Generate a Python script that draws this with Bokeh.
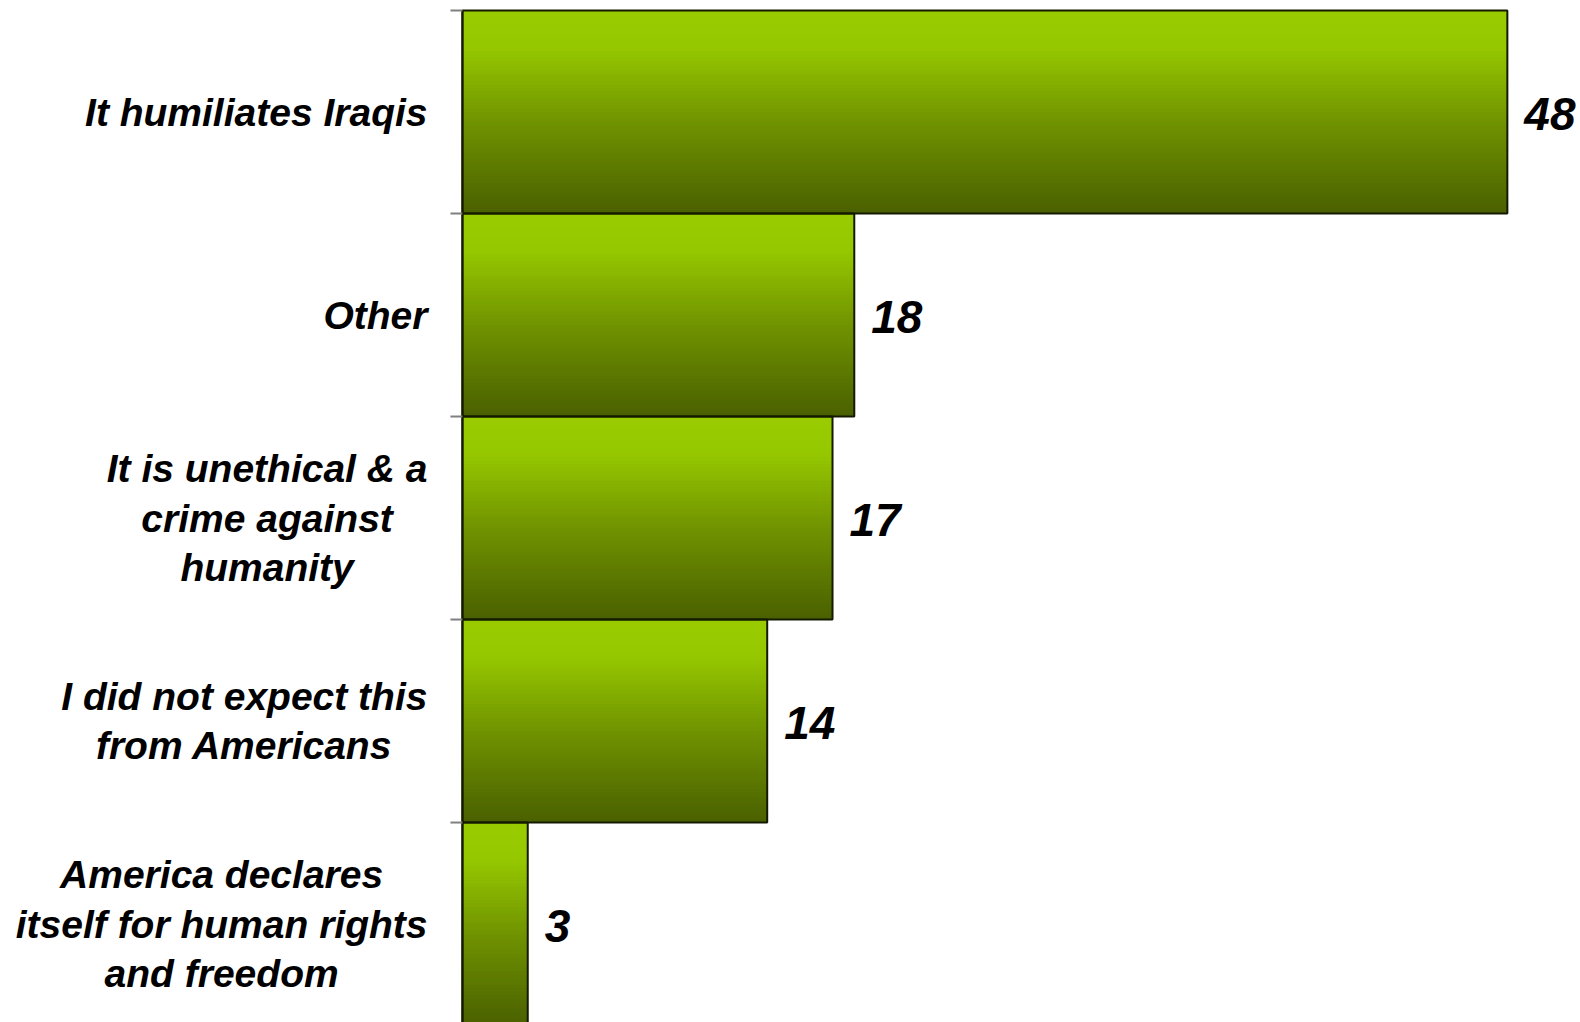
import glob
import numpy as np
from bokeh.plotting import figure
from bokeh.models import Range1d, ColumnDataSource
from bokeh.core.properties import value
from bokeh.embed import file_html
from bokeh.resources import INLINE

# ---- data ----
categories = [
    "It humiliates Iraqis",
    "Other",
    "It is unethical & a\ncrime against\nhumanity",
    "I did not expect this\nfrom Americans",
    "America declares\nitself for human rights\nand freedom",
]
values = [48, 18, 17, 14, 3]
value_labels = ["48", "18", "17", "14", "3"]

# ---- style ----
FONT = "Liberation Sans"
CAT_SIZE = 39
VAL_SIZE = 46
W, H = 1580, 1022


def text_width(s, size):
    try:
        from PIL import ImageFont
        paths = glob.glob("/usr/share/fonts/**/LiberationSans-BoldItalic.ttf", recursive=True)
        f = ImageFont.truetype(paths[0], size)
        return f.getlength(s)
    except Exception:
        return 0.58 * size * len(s)


n = len(categories)
p = figure(width=W, height=H, output_backend="svg", toolbar_location=None,
           x_axis_location=None, y_axis_location=None,
           x_range=Range1d(-21.22, 51.36), y_range=Range1d(4.985, -0.04926))
p.min_border = 0
p.outline_line_color = None
p.grid.visible = False
p.background_fill_color = "white"
p.border_fill_color = "white"

# gradient by stacked strips
stops = [(0.0, (0x99, 0xCC, 0x00)), (0.18, (0x96, 0xC8, 0x00)),
         (0.55, (0x70, 0x93, 0x00)), (1.0, (0x4A, 0x60, 0x00))]


def grad(t):
    for (t0, c0), (t1, c1) in zip(stops[:-1], stops[1:]):
        if t <= t1:
            f = (t - t0) / (t1 - t0)
            return "#%02x%02x%02x" % tuple(int(round(a + (b - a) * f)) for a, b in zip(c0, c1))
    return "#%02x%02x%02x" % stops[-1][1]


N = 60
L, R, T, B, C = [], [], [], [], []
for i, v in enumerate(values):
    for k in range(N):
        L.append(0)
        R.append(v)
        T.append(i + k / N)
        B.append(min(i + (k + 1.6) / N, i + 1))
        C.append(grad((k + 0.5) / N))
p.quad(source=ColumnDataSource(dict(left=L, right=R, top=T, bottom=B, color=C)),
       left="left", right="right", top="top", bottom="bottom",
       fill_color="color", line_color=None)

idx = list(range(n))
p.quad(left=[0] * n, right=values, top=idx, bottom=[i + 1 for i in idx],
       fill_alpha=0, line_color="#141a00", line_width=2)

# axis line and ticks
p.segment(x0=[0], y0=[0], x1=[0], y1=[n], line_color="#141a00", line_width=2)
p.ray(x=[0] * n, y=idx, length=12, angle=np.pi, length_units="screen",
      line_color="#808080", line_width=2)

# value labels
p.text(x=values, y=[i + 0.5 for i in idx], text=value_labels,
       x_offset=17, y_offset=2, text_font=value(FONT), text_font_style="bold italic",
       text_font_size=f"{VAL_SIZE}px", text_baseline="middle", text_align="left",
       text_color="black")

# category labels (centered blocks, widest line right-aligned near axis)
offs = []
for c in categories:
    mw = max(text_width(line, CAT_SIZE) for line in c.split("\n"))
    offs.append(-35 - mw / 2)
p.text(x=[0] * n, y=[i + 0.5 for i in idx], text=categories, x_offset=offs,
       text_font=value(FONT), text_font_style="bold italic",
       text_font_size=f"{CAT_SIZE}px", text_baseline="middle", text_align="center",
       text_line_height=1.16, text_color="black")

open("out.html", "w").write(file_html(p, INLINE))
